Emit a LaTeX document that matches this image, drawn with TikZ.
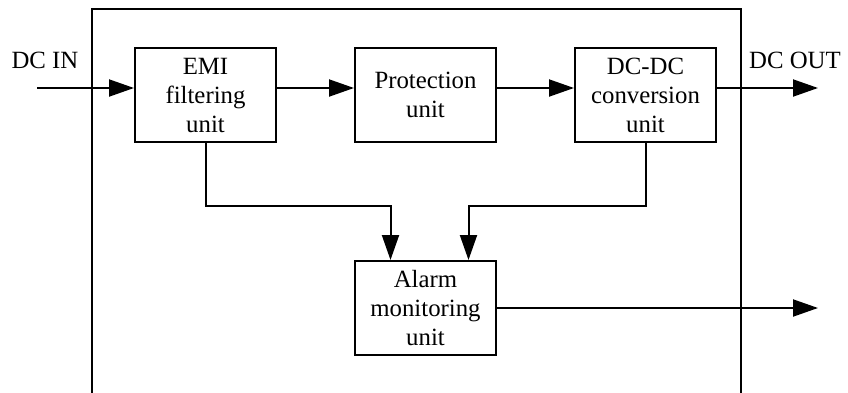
\documentclass[tikz,border=0pt]{standalone}
\usepackage{fontspec}
\setmainfont{Liberation Serif}
\usetikzlibrary{arrows.meta,positioning}

\begin{document}
\begin{tikzpicture}[
  x=0.5pt, y=-0.5pt,
  node distance=38.5pt and 38.5pt,
  unit/.style={draw, line width=1pt, align=center, minimum width=70.5pt, minimum height=47pt, inner sep=2pt, font=\fontsize{12.4}{14.5}\selectfont},
  lbl/.style={font=\fontsize{12.4}{14.5}\selectfont, inner sep=0pt},
  wire/.style={line width=1pt},
  arr/.style={wire, -{Triangle[length=12.5pt, width=8.5pt]}}
]
\useasboundingbox (0,0) rectangle (848,392);
% enclosure
\draw[wire] (92,9) rectangle (741,394);

\node[unit] (emi) at (205.5,95) {EMI\\filtering\\unit};
\node[unit, right=of emi] (prot) {Protection\\unit};
\node[unit, right=of prot] (dcdc) {DC-DC\\conversion\\unit};
\node[unit, below=58.5pt of prot] (alarm) {Alarm\\monitoring\\unit};

\coordinate (in) at (37,88);
\coordinate (out) at (818,88);
\coordinate (aout) at (818,307);
\node[lbl] (dcin) at (45,60) {DC IN};
\node[lbl] (dcout) at (795,60) {DC OUT};

% power path
\draw[arr] (in) -- ([yshift=3.5pt]emi.west);
\draw[arr] ([yshift=3.5pt]emi.east) -- ([yshift=3.5pt]prot.west);
\draw[arr] ([yshift=3.5pt]prot.east) -- ([yshift=3.5pt]dcdc.west);
\draw[arr] ([yshift=3.5pt]dcdc.east) -- (out);
% monitoring
\draw[arr] (emi.south) -- ++(0,63) -| ([xshift=-17.5pt]alarm.north);
\draw[arr] (dcdc.south) -- ++(0,63) -| ([xshift=21.5pt]alarm.north);
\draw[arr] (alarm.east) -- (alarm.east -| aout);
\end{tikzpicture}
\end{document}
